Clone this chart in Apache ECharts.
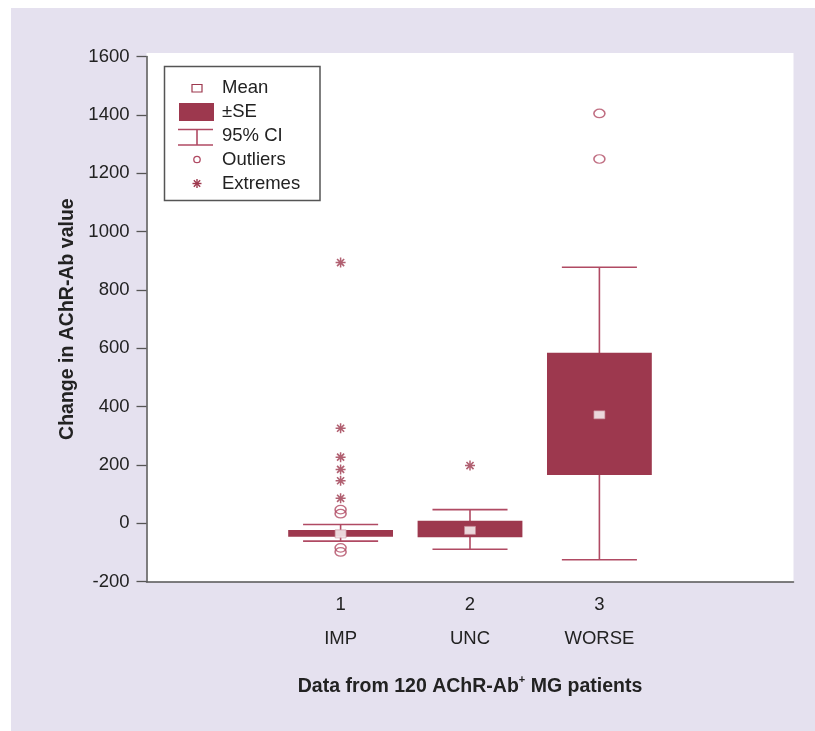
<!DOCTYPE html>
<html>
<head>
<meta charset="utf-8">
<script src="https://cdn.jsdelivr.net/npm/echarts@6/dist/echarts.min.js"></script>
<style>html,body{margin:0;padding:0;background:#fff}#c{width:815px;height:731px}</style>
</head>
<body>
<div id="c"></div>
<script>
// ---- data ----
const categories = ['', '1', '2', '3', ''];
const groupNames = ['', 'IMP', 'UNC', 'WORSE', ''];
const groupIndex = [1, 2, 3];
const ciLower = [-61, -89, -125];
const seLower = [-46, -48, 166];
const seUpper = [-23, 9, 585];
const ciUpper = [-4, 47, 878];
const means = [-36, -24, 372];
const outlierGroup = [1, 1, 1, 1, 3, 3];
const outlierValue = [47, 33, -84, -98, 1405, 1249];
const extremeGroup = [1, 1, 1, 1, 1, 1, 2];
const extremeValue = [894, 326, 227, 185, 146, 86, 198];
const yTicks = { min: -200, max: 1600, interval: 200 };

// ---- style ----
const FONT = '"Liberation Sans", Arial, Helvetica, sans-serif';
const BOX = '#9d384e';
const LINE = '#b04a63';
const AX = '#555';
const ASTER = 'path://M-5,-0.75L5,-0.75L5,0.75L-5,0.75Z M-0.75,-5L0.75,-5L0.75,5L-0.75,5Z M-2.97,-4.11L4.11,2.97L2.97,4.11L-4.11,-2.97Z M4.11,-2.97L-2.97,4.11L-4.11,2.97L2.97,-4.11Z';

const boxData = groupIndex.map((g, i) => [g, ciLower[i], seLower[i], seUpper[i], ciUpper[i]]);
const meanData = groupIndex.map((g, i) => [g, means[i]]);
const outlierData = outlierGroup.map((g, i) => [g, outlierValue[i]]);
const extremeData = extremeGroup.map((g, i) => [g, extremeValue[i]]);

function renderBox(params, api) {
  const x = api.value(0);
  const lo = api.coord([x, api.value(1)]);
  const sLo = api.coord([x, api.value(2)]);
  const sHi = api.coord([x, api.value(3)]);
  const hi = api.coord([x, api.value(4)]);
  const band = api.size([1, 0])[0];
  const bw = band * 0.81, cw = band * 0.58;
  const ls = { stroke: LINE, lineWidth: 1.6 };
  return {
    type: 'group',
    children: [
      { type: 'line', shape: { x1: lo[0], y1: lo[1], x2: hi[0], y2: hi[1] }, style: ls },
      { type: 'line', shape: { x1: lo[0] - cw / 2, y1: lo[1], x2: lo[0] + cw / 2, y2: lo[1] }, style: ls },
      { type: 'line', shape: { x1: hi[0] - cw / 2, y1: hi[1], x2: hi[0] + cw / 2, y2: hi[1] }, style: ls },
      { type: 'rect', shape: { x: sLo[0] - bw / 2, y: sHi[1], width: bw, height: sLo[1] - sHi[1] }, style: { fill: BOX } }
    ]
  };
}

const chart = echarts.init(document.getElementById('c'), null, { renderer: 'canvas' });

const lx = 197, tx = 222, ay = 183.5;
const astStyle = { stroke: BOX, lineWidth: 1.4 };
const legendGraphic = {
  type: 'group', z: 100,
  children: [
    { type: 'rect', shape: { x: 164.5, y: 66.5, width: 155.5, height: 134 }, style: { fill: '#fff', stroke: AX, lineWidth: 1.5 } },
    { type: 'rect', shape: { x: lx - 5, y: 84.5, width: 10, height: 7.5 }, style: { fill: '#fff', stroke: BOX, lineWidth: 1.2 } },
    { type: 'rect', shape: { x: 179, y: 103, width: 35, height: 18 }, style: { fill: BOX } },
    { type: 'line', shape: { x1: 178, y1: 129.5, x2: 213, y2: 129.5 }, style: { stroke: LINE, lineWidth: 1.6 } },
    { type: 'line', shape: { x1: 178, y1: 145, x2: 213, y2: 145 }, style: { stroke: LINE, lineWidth: 1.6 } },
    { type: 'line', shape: { x1: lx, y1: 129.5, x2: lx, y2: 145 }, style: { stroke: LINE, lineWidth: 1.6 } },
    { type: 'circle', shape: { cx: lx, cy: 159.5, r: 3.2 }, style: { fill: 'none', stroke: LINE, lineWidth: 1.3 } },
    { type: 'line', shape: { x1: lx - 4.5, y1: ay, x2: lx + 4.5, y2: ay }, style: astStyle },
    { type: 'line', shape: { x1: lx, y1: ay - 4.5, x2: lx, y2: ay + 4.5 }, style: astStyle },
    { type: 'line', shape: { x1: lx - 3.2, y1: ay - 3.2, x2: lx + 3.2, y2: ay + 3.2 }, style: astStyle },
    { type: 'line', shape: { x1: lx - 3.2, y1: ay + 3.2, x2: lx + 3.2, y2: ay - 3.2 }, style: astStyle },
    { type: 'text', x: tx, y: 88, style: { text: 'Mean', font: '18.5px ' + FONT, fill: '#222', verticalAlign: 'middle' } },
    { type: 'text', x: tx, y: 112, style: { text: '±SE', font: '18.5px ' + FONT, fill: '#222', verticalAlign: 'middle' } },
    { type: 'text', x: tx, y: 136, style: { text: '95% CI', font: '18.5px ' + FONT, fill: '#222', verticalAlign: 'middle' } },
    { type: 'text', x: tx, y: 159.5, style: { text: 'Outliers', font: '18.5px ' + FONT, fill: '#222', verticalAlign: 'middle' } },
    { type: 'text', x: tx, y: 183.5, style: { text: 'Extremes', font: '18.5px ' + FONT, fill: '#222', verticalAlign: 'middle' } }
  ]
};

chart.setOption({
  backgroundColor: '#ffffff',
  animation: false,
  graphic: [
    { type: 'rect', z: -20, silent: true, shape: { x: 11, y: 8, width: 804, height: 723 }, style: { fill: '#e5e1ef' } },
    { type: 'rect', z: -10, silent: true, shape: { x: 146.5, y: 53, width: 647, height: 528.7 }, style: { fill: '#ffffff' } },
    legendGraphic
  ],
  grid: { left: 146.5, right: 21.5, top: 56.6, bottom: 149.3, containLabel: false },
  xAxis: {
    type: 'category',
    data: categories,
    boundaryGap: true,
    axisLine: { onZero: false, lineStyle: { color: AX, width: 1.5 } },
    axisTick: { alignWithLabel: true, length: 8, interval: (i) => i >= 1 && i <= 3, lineStyle: { color: AX, width: 1.3 } },
    axisLabel: {
      interval: 0, margin: 6,
      formatter: (v, i) => v ? '{n|' + v + '}\n{c|' + groupNames[i] + '}' : '',
      rich: {
        n: { fontSize: 18.5, fontFamily: FONT, color: '#222', lineHeight: 34 },
        c: { fontSize: 18.5, fontFamily: FONT, color: '#222', lineHeight: 34 }
      }
    },
    name: '{b|Data from 120 AChR-Ab}{s|+}{b| MG patients}',
    nameLocation: 'middle',
    nameGap: 93,
    nameTextStyle: {
      rich: {
        b: { fontSize: 19.5, fontWeight: 'bold', fontFamily: FONT, color: '#222', lineHeight: 24 },
        s: { fontSize: 11, fontWeight: 'bold', fontFamily: FONT, color: '#222', verticalAlign: 'top', lineHeight: 24 }
      }
    },
    splitLine: { show: false }
  },
  yAxis: {
    type: 'value',
    min: yTicks.min, max: yTicks.max, interval: yTicks.interval,
    axisLine: { show: true, lineStyle: { color: AX, width: 1.5 } },
    axisTick: { show: true, length: 10, lineStyle: { color: AX, width: 1.3 } },
    axisLabel: { fontSize: 18.5, fontFamily: FONT, color: '#222', margin: 17, formatter: (v) => String(v) },
    splitLine: { show: false },
    name: 'Change in AChR-Ab value',
    nameLocation: 'middle',
    nameGap: 62,
    nameTextStyle: { fontSize: 19.5, fontWeight: 'bold', fontFamily: FONT, color: '#222' }
  },
  series: [
    {
      type: 'custom', name: '±SE', renderItem: renderBox, data: boxData,
      encode: { x: 0, y: [1, 2, 3, 4] }, z: 2, silent: true
    },
    {
      type: 'scatter', name: 'Mean', data: meanData, symbol: 'rect', symbolSize: [11, 8],
      itemStyle: { color: '#fff', borderColor: '#c98a98', borderWidth: 0.8 }, z: 5, silent: true
    },
    {
      type: 'scatter', name: 'Outliers', data: outlierData, symbol: 'circle', symbolSize: [11, 8.5],
      itemStyle: { color: 'rgba(0,0,0,0)', borderColor: LINE, borderWidth: 1.4 }, z: 4, silent: true
    },
    {
      type: 'scatter', name: 'Extremes', data: extremeData, symbol: ASTER, symbolSize: 10,
      itemStyle: { color: BOX }, z: 4, silent: true
    }
  ]
});
</script>
</body>
</html>
